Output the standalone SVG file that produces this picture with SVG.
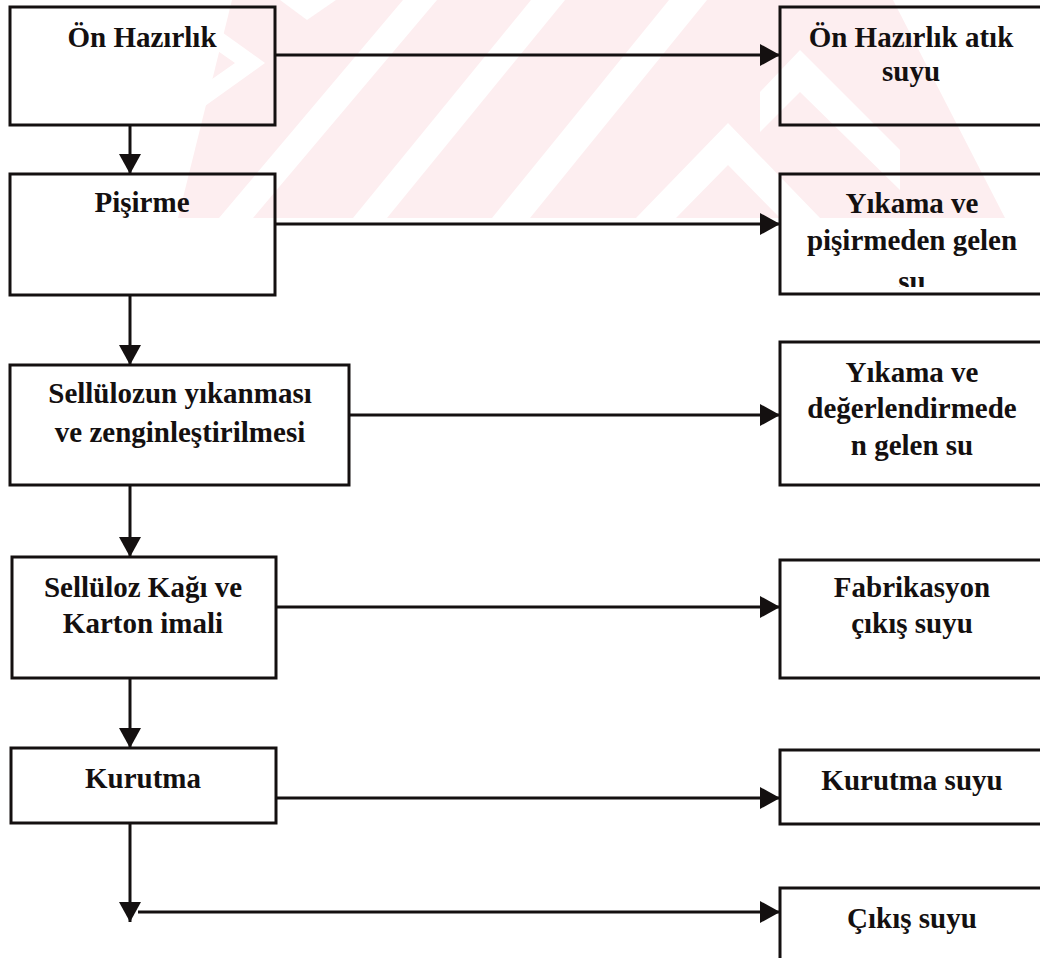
<svg xmlns="http://www.w3.org/2000/svg" width="1040" height="958" viewBox="0 0 1040 958">
  <style>
    .box { fill: none; stroke: #141010; stroke-width: 3; }
    .edge { fill: none; stroke: #141010; stroke-width: 3; }
    .lbl { font-family: "Liberation Serif", "Times New Roman", serif; font-weight: bold; fill: #141010; text-anchor: middle; }
    .l { font-size: 29px; }
    .r { font-size: 29px; }
    .wm { fill: #fdeef0; }
    .wmcut { fill: #ffffff; }
  </style>
  <defs>
    <marker id="head" markerUnits="userSpaceOnUse" markerWidth="22" markerHeight="24" refX="20" refY="11" orient="auto" overflow="visible">
      <path d="M0,0 L20,11 L0,22 Z" fill="#141010"/>
    </marker>
    <clipPath id="rb2clip">
      <rect x="780" y="174" width="262" height="113"/>
    </clipPath>
  </defs>

  <rect width="1040" height="958" fill="#ffffff"/>

  <!-- faint background emblem -->
  <g id="emblem">
    <polygon class="wm" points="232,0 893,0 1005,218 178,218"/>
    <!-- diagonal gaps -->
    <polygon class="wmcut" points="219,218 253,218 437,0 403,0"/>
    <polygon class="wmcut" points="353,218 387,218 565,0 531,0"/>
    <polygon class="wmcut" points="492,218 530,218 707,0 669,0"/>
    <!-- chevrons -->
    <polygon class="wmcut" points="728,123 820,218 780,218 728,165 676,218 636,218"/>
    <polygon class="wmcut" points="800,50 900,150 900,190 800,92 760,132 760,92"/>
    <polygon class="wmcut" points="205,20 265,63 205,106 205,84 235,63 205,42"/>
    <polygon class="wmcut" points="280,0 336,0 307,20"/>
  </g>

  <!-- connectors -->
  <g id="connectors">
    <line class="edge" x1="130" y1="125" x2="130" y2="174" marker-end="url(#head)"/>
    <line class="edge" x1="130" y1="295" x2="130" y2="365" marker-end="url(#head)"/>
    <line class="edge" x1="130" y1="485" x2="130" y2="557" marker-end="url(#head)"/>
    <line class="edge" x1="130" y1="678" x2="130" y2="748" marker-end="url(#head)"/>
    <line class="edge" x1="130" y1="823" x2="130" y2="922" marker-end="url(#head)"/>

    <line class="edge" x1="275" y1="55" x2="780" y2="55" marker-end="url(#head)"/>
    <line class="edge" x1="275" y1="224" x2="780" y2="224" marker-end="url(#head)"/>
    <line class="edge" x1="349" y1="415" x2="780" y2="415" marker-end="url(#head)"/>
    <line class="edge" x1="276" y1="607" x2="780" y2="607" marker-end="url(#head)"/>
    <line class="edge" x1="276" y1="798" x2="780" y2="798" marker-end="url(#head)"/>
    <line class="edge" x1="138" y1="912" x2="780" y2="912" marker-end="url(#head)"/>
  </g>

  <!-- process steps -->
  <g id="on-hazirlik">
    <rect class="box" x="10" y="7" width="265" height="118"/>
    <text class="lbl l" x="142" y="47">Ön Hazırlık</text>
  </g>
  <g id="pisirme">
    <rect class="box" x="10" y="174" width="265" height="121"/>
    <text class="lbl l" x="142" y="212">Pişirme</text>
  </g>
  <g id="yikama">
    <rect class="box" x="10" y="365" width="339" height="120"/>
    <text class="lbl l" x="180" y="403">Sellülozun yıkanması</text>
    <text class="lbl l" x="180" y="442">ve zenginleştirilmesi</text>
  </g>
  <g id="imalat">
    <rect class="box" x="12" y="557" width="264" height="121"/>
    <text class="lbl l" x="143" y="597">Sellüloz Kağı ve</text>
    <text class="lbl l" x="143" y="633">Karton imali</text>
  </g>
  <g id="kurutma">
    <rect class="box" x="11" y="748" width="265" height="75"/>
    <text class="lbl l" x="143" y="788">Kurutma</text>
  </g>

  <!-- waste water outputs -->
  <g id="atik-suyu">
    <rect class="box" x="780" y="7" width="270" height="118"/>
    <text class="lbl r" x="911" y="47">Ön Hazırlık atık</text>
    <text class="lbl r" x="911" y="81">suyu</text>
  </g>
  <g id="pisirme-suyu">
    <rect class="box" x="780" y="174" width="270" height="120"/>
    <text class="lbl r" x="912" y="213">Yıkama ve</text>
    <text class="lbl r" x="912" y="250">pişirmeden gelen</text>
    <text class="lbl r" x="912" y="291" clip-path="url(#rb2clip)">su</text>
  </g>
  <g id="degerlendirme-suyu">
    <rect class="box" x="780" y="342" width="270" height="143"/>
    <text class="lbl r" x="912" y="382">Yıkama ve</text>
    <text class="lbl r" x="912" y="418">değerlendirmede</text>
    <text class="lbl r" x="912" y="455">n gelen su</text>
  </g>
  <g id="fabrikasyon-suyu">
    <rect class="box" x="780" y="560" width="270" height="118"/>
    <text class="lbl r" x="912" y="597">Fabrikasyon</text>
    <text class="lbl r" x="912" y="633">çıkış suyu</text>
  </g>
  <g id="kurutma-suyu">
    <rect class="box" x="780" y="750" width="270" height="74"/>
    <text class="lbl r" x="912" y="790">Kurutma suyu</text>
  </g>
  <g id="cikis-suyu">
    <rect class="box" x="780" y="888" width="270" height="80"/>
    <text class="lbl r" x="912" y="928">Çıkış suyu</text>
  </g>
</svg>
